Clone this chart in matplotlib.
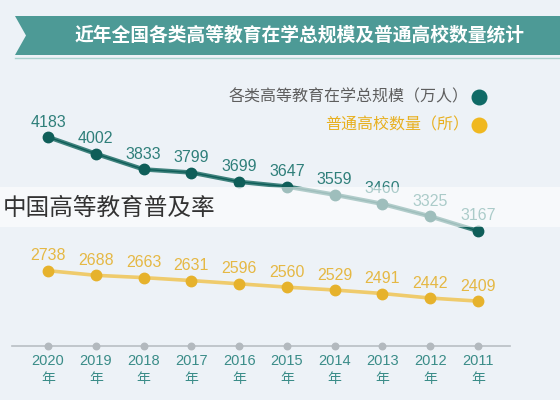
import matplotlib
matplotlib.use("Agg")
import matplotlib.pyplot as plt
from matplotlib.patches import Polygon, Rectangle
from matplotlib.transforms import blended_transform_factory

plt.rcParams['font.family'] = ['Noto Sans CJK SC', 'DejaVu Sans']

years = [2020, 2019, 2018, 2017, 2016, 2015, 2014, 2013, 2012, 2011]
enrollment = [4183, 4002, 3833, 3799, 3699, 3647, 3559, 3460, 3325, 3167]
colleges = [2738, 2688, 2663, 2631, 2596, 2560, 2529, 2491, 2442, 2409]
year_labels = [f"{y}\n年" for y in years]

title = "近年全国各类高等教育在学总规模及普通高校数量统计"
legend1 = "各类高等教育在学总规模（万人）"
legend2 = "普通高校数量（所）"
overlay = "中国高等教育普及率"

W, H = 560, 400
bg = '#edf2f7'
teal_dark = '#0f5e59'
teal_line = '#3f827d'
teal_txt = '#2f7f7a'
gold = '#e6b22c'
gold_line = '#efcb6c'
gold_txt = '#e5b844'

fig = plt.figure(figsize=(W / 100, H / 100), dpi=100, facecolor=bg)
ax = fig.add_axes([0, 0, 1, 1])
ax.set_facecolor(bg)
ax.set_xlim(2021.005, 2009.284)
ax.set_ylim(1340, 5664)
ax.axis('off')

def fx(px):
    return px / W

def fy(py):
    return 1 - py / H

# Banner
banner = Polygon([(fx(15), fy(16)), (fx(560), fy(16)), (fx(560), fy(55)),
                  (fx(15), fy(55)), (fx(26), fy(35.5))], closed=True,
                 transform=ax.transAxes, facecolor='#4d9a96', edgecolor='none', zorder=1)
ax.add_patch(banner)
ax.plot([fx(15), fx(560)], [fy(57.5), fy(57.5)], transform=ax.transAxes,
        color='#a9d2cf', lw=1, zorder=1)
ax.text(fx(525), fy(35), title, transform=ax.transAxes, ha='right', va='center',
        fontsize=13.5, fontweight='bold', color='white', zorder=2)

# Legend
ax.scatter([fx(479)], [fy(97)], transform=ax.transAxes, s=110, color='#0f6a66', zorder=3)
ax.scatter([fx(479)], [fy(125)], transform=ax.transAxes, s=110, color='#f0b820', zorder=3)
ax.text(fx(469), fy(97), legend1, transform=ax.transAxes, ha='right', va='center',
        fontsize=11.5, color='#5e5e5e', zorder=3)
ax.text(fx(469), fy(125), legend2, transform=ax.transAxes, ha='right', va='center',
        fontsize=11.5, color='#e8b020', zorder=3)

num_font = ['Liberation Sans Narrow', 'Liberation Sans', 'DejaVu Sans']

# Teal series
ax.plot(years, enrollment, color=teal_line, lw=3.2, zorder=4, solid_capstyle='round')
ax.plot(years, enrollment, color=teal_dark, lw=1.0, zorder=4)
ax.plot(years, enrollment, 'o', color=teal_dark, ms=7.5, zorder=5)
for x, v in zip(years, enrollment):
    ax.annotate(str(v), (x, v), xytext=(0, 15), textcoords='offset pixels',
                ha='center', va='center', fontsize=11.5, color=teal_txt,
                family=num_font, zorder=5)

# Gold series
ax.plot(years, colleges, color=gold_line, lw=2.6, zorder=4)
ax.plot(years, colleges, 'o', color=gold, ms=7.5, zorder=5)
for x, v in zip(years, colleges):
    ax.annotate(str(v), (x, v), xytext=(0, 15), textcoords='offset pixels',
                ha='center', va='center', fontsize=11.5, color=gold_txt,
                family=num_font, zorder=5)

# X axis
blend = blended_transform_factory(ax.transData, ax.transAxes)
ax.plot([fx(12), fx(510)], [fy(346), fy(346)], transform=ax.transAxes,
        color='#b9bfc4', lw=1.2, zorder=2)
ax.scatter(years, [fy(346)] * len(years), transform=blend, s=22, color='#b3b9be', zorder=3)
for x, lab in zip(years, year_labels):
    yr, nian = lab.split("\n")
    ax.text(x, fy(361), yr, transform=blend, ha='center', va='center',
            fontsize=10.5, color='#3a8c88', family=num_font, zorder=3)
    ax.text(x, fy(379), nian, transform=blend, ha='center', va='center',
            fontsize=10, color='#3a8c88', zorder=3)

# White overlay band
ax.add_patch(Rectangle((0, fy(227)), 1, (227 - 187) / H, transform=ax.transAxes,
                       facecolor='white', alpha=0.6, edgecolor='none', zorder=8))
ax.text(fx(3), fy(208), overlay, transform=ax.transAxes, ha='left', va='center',
        fontsize=17, color='#333333', zorder=9)

fig.savefig('out.png', dpi=100, facecolor=bg)
